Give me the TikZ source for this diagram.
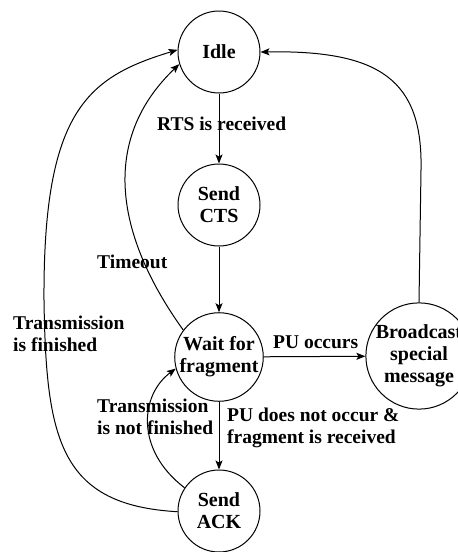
\documentclass[tikz,border=0pt]{standalone}
\usepackage{fontspec}
\setmainfont{Liberation Serif}
\usetikzlibrary{arrows.meta}
\begin{document}
\begin{tikzpicture}[x=1pt,y=-1pt,
  state/.style={draw, circle, line width=1pt, minimum size=82pt, inner sep=0pt, align=center, font=\fontsize{20}{22}\selectfont\bfseries},
  lbl/.style={inner sep=0pt, align=left, font=\fontsize{19.5}{22}\selectfont\bfseries},
  arr/.style={line width=1pt, -{Stealth[length=9pt,width=7pt,inset=2pt]}}]
\useasboundingbox (0,0) rectangle (458,552);
\node[state] (idle) at (219,52) {Idle};
\node[state] (cts) at (219,205) {Send\\CTS};
\node[state] (wait) at (219,357) {Wait for\\fragment};
\node[state] (bc) at (419,356) {Broadcast\\special\\message};
\node[state] (ack) at (219,511) {Send\\ACK};

\draw[arr] (idle) -- (cts);
\draw[arr] (cts) -- (wait);
\draw[arr] (wait) -- (bc);
\draw[arr] (wait) -- (ack);
\draw[arr] (bc.north) -- (421,170) .. controls (423,80) and (380,50) .. (idle.east);
\draw[arr] (wait.143) .. controls (115,235) and (100,140) .. (idle.197);
\draw[arr] (ack.146) .. controls (135,450) and (140,395) .. (wait.195);
\draw[arr] (ack.181) .. controls (60,505) and (46,440) .. (44,300) .. controls (43,110) and (88,77) .. (idle.177);

\node[lbl, anchor=base west] (l1) at (157,130) {RTS is received};
\node[lbl, anchor=base west] (l2) at (97,268) {Timeout};
\node[lbl, anchor=west] (l3) at (13,334) {Transmission\\is finished};
\node[lbl, anchor=base west] (l4) at (273,348) {PU occurs};
\node[lbl, anchor=west] (l5) at (97,417) {Transmission\\is not finished};
\node[lbl, anchor=west] (l6) at (227,428) {PU does not occur \&\\fragment is received};
\end{tikzpicture}
\end{document}
